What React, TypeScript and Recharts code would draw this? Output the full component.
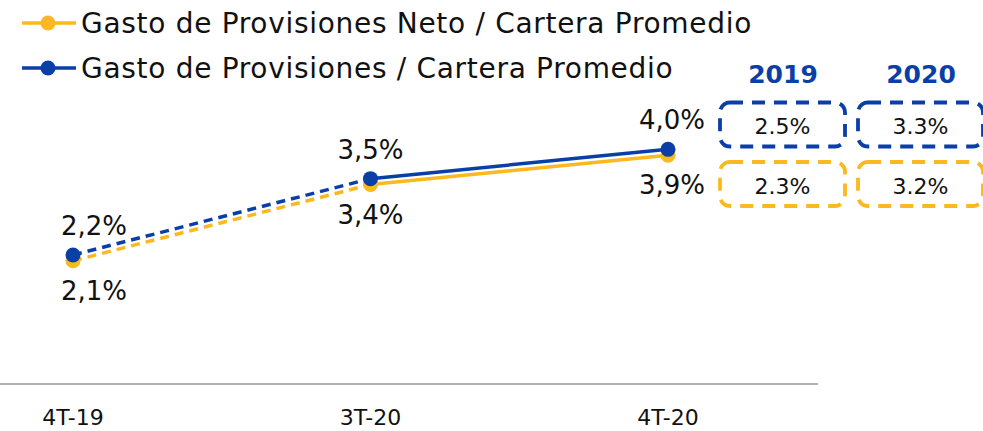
import React from 'react';
import { LineChart, Line, XAxis, YAxis, LabelList } from 'recharts';

const periods = ['4T-19', '3T-20', '4T-20'];
const netoValues = [2.1, 3.4, 3.9];
const brutoValues = [2.2, 3.5, 4.0];
const years = ['2019', '2020'];
const brutoYear = ['2.5%', '3.3%'];
const netoYear = ['2.3%', '3.2%'];
const seriesNames = ['Gasto de Provisiones Neto / Cartera Promedio', 'Gasto de Provisiones / Cartera Promedio'];

const BLUE = '#0b3fa8';
const GOLD = '#fbb91f';
const FONT = '"DejaVu Sans", sans-serif';

// first segment dashed, last segment solid
const data = periods.map((p, i) => ({
  period: p,
  neto: netoValues[i],
  bruto: brutoValues[i],
  netoDash: i <= 1 ? netoValues[i] : null,
  netoSolid: i >= 1 ? netoValues[i] : null,
  brutoDash: i <= 1 ? brutoValues[i] : null,
  brutoSolid: i >= 1 ? brutoValues[i] : null,
}));

const fmt = (v: any) => Number(v).toFixed(1).replace('.', ',') + '%';
const labelShift = [21, 0, 4];

const makeLabel = (above: boolean) => (props: any) => {
  const { x, y, value, index } = props;
  return (
    <text
      x={Number(x) + labelShift[index]}
      y={above ? Number(y) - 20 : Number(y) + 39}
      textAnchor="middle"
      fontSize={26}
      fill="#111"
      fontFamily={FONT}
    >
      {fmt(value)}
    </text>
  );
};

const DashedBox = ({ x, y, color, text }: { x: number; y: number; color: string; text: string }) => (
  <g>
    <rect x={x} y={y} width={125} height={44} rx={10} fill="none" stroke={color} strokeWidth={3.8} strokeDasharray="13 9" />
    <text x={x + 62.5} y={y + 31.5} textAnchor="middle" fontSize={22} fill="#111" fontFamily={FONT}>{text}</text>
  </g>
);

const App: React.FC = () => {
  return (
    <div style={{ position: 'absolute', left: 0, top: 0, width: 983, height: 431, background: '#fff', fontFamily: FONT }}>
      <LineChart width={983} height={431} data={data} margin={{ top: 32, right: 165, left: 0, bottom: 0 }}>
        <XAxis
          dataKey="period"
          height={47}
          padding={{ left: 73, right: 150 }}
          axisLine={{ stroke: '#999', strokeWidth: 1.5 }}
          tickLine={false}
          tick={{ fill: '#111', fontSize: 22, fontFamily: FONT }}
          dy={17}
        />
        <YAxis hide domain={[0, 6]} />
        <Line dataKey="netoDash" stroke={GOLD} strokeWidth={3.5} strokeDasharray="9 6" dot={false} isAnimationActive={false} />
        <Line dataKey="netoSolid" stroke={GOLD} strokeWidth={3.5} dot={false} isAnimationActive={false} />
        <Line dataKey="neto" stroke="none" dot={{ r: 7.5, fill: GOLD, stroke: GOLD, strokeWidth: 0 }} isAnimationActive={false}>
          <LabelList dataKey="neto" content={makeLabel(false)} />
        </Line>
        <Line dataKey="brutoDash" stroke={BLUE} strokeWidth={3.5} strokeDasharray="9 6" dot={false} isAnimationActive={false} />
        <Line dataKey="brutoSolid" stroke={BLUE} strokeWidth={3.5} dot={false} isAnimationActive={false} />
        <Line dataKey="bruto" stroke="none" dot={{ r: 7.5, fill: BLUE, stroke: BLUE, strokeWidth: 0 }} isAnimationActive={false}>
          <LabelList dataKey="bruto" content={makeLabel(true)} />
        </Line>
      </LineChart>

      <svg width={983} height={431} style={{ position: 'absolute', left: 0, top: 0, pointerEvents: 'none' }}>
        {[GOLD, BLUE].map((c, i) => (
          <g key={c}>
            <line x1={22} x2={76} y1={23 + i * 45} y2={23 + i * 45} stroke={c} strokeWidth={3.5} />
            <circle cx={48} cy={23 + i * 45} r={7.5} fill={c} />
            <text x={81} y={33 + i * 45} fontSize={28} letterSpacing={0.7} fill="#111" fontFamily={FONT}>{seriesNames[i]}</text>
          </g>
        ))}
        {years.map((yr, i) => (
          <g key={yr}>
            <text x={783 + i * 138} y={83} textAnchor="middle" fontSize={25} fontWeight={700} fill={BLUE} fontFamily={FONT}>{yr}</text>
            <DashedBox x={720 + i * 138} y={102.5} color={BLUE} text={brutoYear[i]} />
            <DashedBox x={720 + i * 138} y={162} color={GOLD} text={netoYear[i]} />
          </g>
        ))}
      </svg>
    </div>
  );
};

export default App;
